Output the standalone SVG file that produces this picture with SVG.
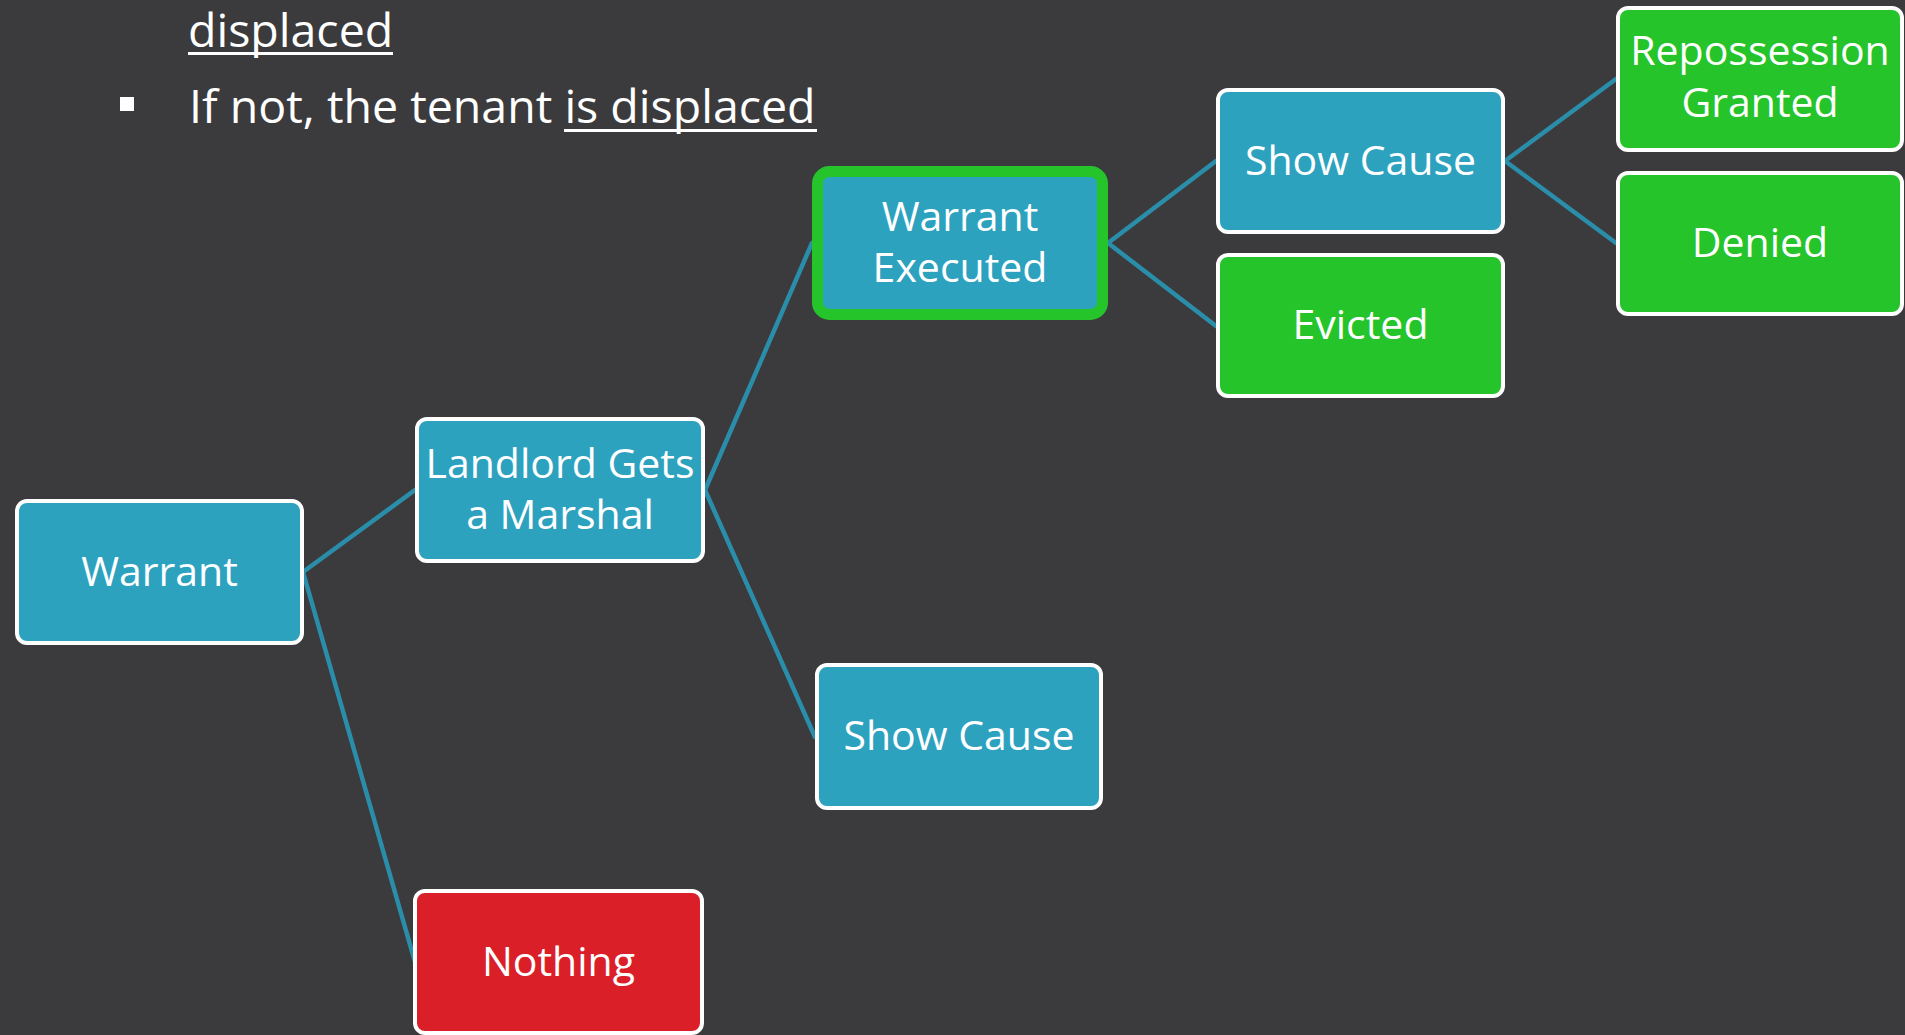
<svg xmlns="http://www.w3.org/2000/svg" width="1905" height="1035" viewBox="0 0 1905 1035">
  <style>
    .bg { fill: #3b3b3d; }
    .box { stroke: #ffffff; stroke-width: 4; }
    .blue { fill: #2da2bf; }
    .green { fill: #26c42b; }
    .red { fill: #da1f28; }
    .hl { stroke: #26c42b; stroke-width: 11; }
    .lbl { font-family: "Open Sans", "Noto Sans", sans-serif; font-size: 41px; fill: #ffffff; text-anchor: middle; }
    .head { font-family: "Open Sans", "Noto Sans", sans-serif; font-size: 46.5px; fill: #ffffff; }
    .conn line { stroke: #2a8eaa; stroke-width: 4.5; stroke-linecap: round; }
  </style>

  <rect class="bg" x="0" y="0" width="1905" height="1035"/>

  <!-- bullet text -->
  <g id="bullets">
    <text class="head" x="188" y="47">displaced</text>
    <rect x="188" y="52" width="205" height="3" fill="#ffffff"/>
    <rect x="120" y="97" width="14" height="14" fill="#ffffff"/>
    <text class="head" x="189" y="123">If not, the tenant is displaced</text>
    <rect x="564" y="129" width="253" height="3" fill="#ffffff"/>
  </g>

  <!-- connectors -->
  <g id="connectors" class="conn">
    <line x1="303" y1="572" x2="415" y2="490"/>
    <line x1="303" y1="572" x2="415" y2="962"/>
    <line x1="705" y1="490" x2="812" y2="243"/>
    <line x1="705" y1="490" x2="815" y2="737"/>
    <line x1="1108" y1="243" x2="1216" y2="161"/>
    <line x1="1108" y1="243" x2="1216" y2="326"/>
    <line x1="1505" y1="161" x2="1616" y2="79"/>
    <line x1="1505" y1="161" x2="1616" y2="243"/>
  </g>

  <g id="warrant">
    <rect class="box blue" x="17" y="501" width="285" height="142" rx="10"/>
    <text class="lbl" x="159.5" y="586">Warrant</text>
  </g>

  <g id="landlord">
    <rect class="box blue" x="417" y="419" width="286" height="142" rx="10"/>
    <text class="lbl" x="560" y="478">Landlord Gets</text>
    <text class="lbl" x="560" y="529">a Marshal</text>
  </g>

  <g id="warrant-executed">
    <rect class="hl blue" x="817.5" y="171.5" width="285" height="143" rx="12"/>
    <text class="lbl" x="960" y="231">Warrant</text>
    <text class="lbl" x="960" y="282">Executed</text>
  </g>

  <g id="show-cause-lower">
    <rect class="box blue" x="817" y="665" width="284" height="143" rx="10"/>
    <text class="lbl" x="959" y="750">Show Cause</text>
  </g>

  <g id="nothing">
    <rect class="box red" x="415" y="891" width="287" height="142" rx="10"/>
    <text class="lbl" x="558.5" y="976">Nothing</text>
  </g>

  <g id="show-cause-upper">
    <rect class="box blue" x="1218" y="90" width="285" height="142" rx="10"/>
    <text class="lbl" x="1360.5" y="175">Show Cause</text>
  </g>

  <g id="evicted">
    <rect class="box green" x="1218" y="255" width="285" height="141" rx="10"/>
    <text class="lbl" x="1360.5" y="339">Evicted</text>
  </g>

  <g id="repossession-granted">
    <rect class="box green" x="1618" y="8" width="284" height="142" rx="10"/>
    <text class="lbl" x="1760" y="65">Repossession</text>
    <text class="lbl" x="1760" y="117">Granted</text>
  </g>

  <g id="denied">
    <rect class="box green" x="1618" y="173" width="284" height="141" rx="10"/>
    <text class="lbl" x="1760" y="257">Denied</text>
  </g>
</svg>
